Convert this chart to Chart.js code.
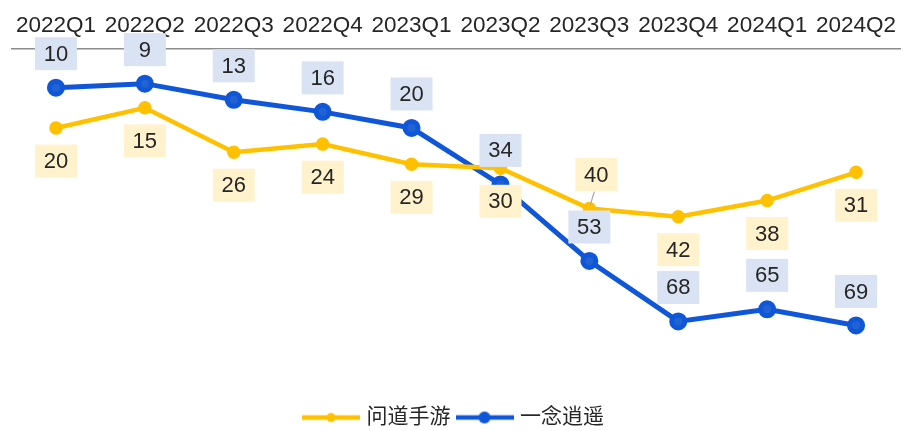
<!DOCTYPE html>
<html>
<head>
<meta charset="utf-8">
<script src="https://cdn.jsdelivr.net/npm/chart.js@4.4.1/dist/chart.umd.min.js"></script>
<style>
    html, body { margin: 0; padding: 0; background: #ffffff; }
    #chartContainer { width: 912px; height: 431px; }
</style>
</head>
<body>
<div id="chartContainer"><canvas id="myChart"></canvas></div>
<script>
const quarters = ['2022Q1', '2022Q2', '2022Q3', '2022Q4', '2023Q1', '2023Q2', '2023Q3', '2023Q4', '2024Q1', '2024Q2'];
const wendaoRank = [20, 15, 26, 24, 29, 30, 40, 42, 38, 31];
const yinianRank = [10, 9, 13, 16, 20, 34, 53, 68, 65, 69];

// where each box label sits (above / below its point), and a sideways nudge
const wendaoSide = ['below', 'below', 'below', 'below', 'below', 'below', 'above', 'below', 'below', 'below'];
const wendaoNudge = [0, 0, 0, 0, 0, 0, 7, 0, 0, 0];
const yinianSide = ['above', 'above', 'above', 'above', 'above', 'above', 'above', 'above', 'above', 'above'];
const yinianNudge = [0, 0, 0, 0, 0, 0, 0, 0, 0, 0];

const FONT = '"Liberation Sans", "Noto Sans CJK SC", Arial, sans-serif';
const YELLOW = '#ffc000';
const BLUE = '#0f57d8';

function legendIcon(color, r) {
    const c = document.createElement('canvas');
    c.width = 58;
    c.height = 14;
    const g = c.getContext('2d');
    g.strokeStyle = color;
    g.lineWidth = 4.5;
    g.beginPath();
    g.moveTo(0, 7);
    g.lineTo(58, 7);
    g.stroke();
    g.fillStyle = color;
    g.beginPath();
    g.arc(29, 7, r, 0, Math.PI * 2);
    g.fill();
    return c;
}

const boxLabels = {
    id: 'boxLabels',
    afterDatasetsDraw(chart) {
        const ctx = chart.ctx;
        ctx.save();
        ctx.font = '22px ' + FONT;
        ctx.textAlign = 'center';
        ctx.textBaseline = 'middle';
        chart.data.datasets.forEach((ds, i) => {
            const meta = chart.getDatasetMeta(i);
            meta.data.forEach((pt, j) => {
                const x = pt.x + ds.labelNudge[j];
                const y = ds.labelSide[j] === 'above' ? pt.y - 34 : pt.y + 33;
                if (ds.labelNudge[j] !== 0) {
                    ctx.strokeStyle = '#a6a6a6';
                    ctx.lineWidth = 1.2;
                    ctx.beginPath();
                    ctx.moveTo(x - 2, y + 17);
                    ctx.lineTo(pt.x + 1, pt.y - 4);
                    ctx.stroke();
                }
                ctx.fillStyle = ds.labelBg;
                ctx.fillRect(x - 21, y - 16.5, 42, 33);
                ctx.fillStyle = '#262626';
                ctx.fillText(String(ds.data[j]), x, y + 1);
            });
        });
        ctx.restore();
    }
};

let myChart = null;

function createChart() {
    if (myChart !== null) {
        myChart.destroy();
    }
    const ctx = document.getElementById('myChart').getContext('2d');
    myChart = new Chart(ctx, {
        type: 'line',
        data: {
            labels: quarters,
            datasets: [
                {
                    label: '问道手游',
                    data: wendaoRank,
                    borderColor: YELLOW,
                    backgroundColor: YELLOW,
                    borderWidth: 4.5,
                    pointRadius: 4.5,
                    pointHoverRadius: 4.5,
                    fill: false,
                    tension: 0,
                    labelBg: '#fff2cc',
                    labelSide: wendaoSide,
                    labelNudge: wendaoNudge,
                    icon: legendIcon(YELLOW, 4.5)
                },
                {
                    label: '一念逍遥',
                    data: yinianRank,
                    borderColor: BLUE,
                    backgroundColor: '#2262d3',
                    borderWidth: 5,
                    pointRadius: 6.5,
                    pointHoverRadius: 6.5,
                    fill: false,
                    tension: 0,
                    labelBg: '#dae3f3',
                    labelSide: yinianSide,
                    labelNudge: yinianNudge,
                    icon: legendIcon(BLUE, 6)
                }
            ]
        },
        options: {
            maintainAspectRatio: false,
            responsive: true,
            animation: false,
            layout: {
                padding: { left: 8, right: 10, top: 2, bottom: -7 }
            },
            plugins: {
                tooltip: { enabled: false },
                legend: {
                    display: true,
                    position: 'bottom',
                    labels: {
                        color: '#262626',
                        font: { size: 21, family: FONT },
                        usePointStyle: true,
                        pointStyleWidth: 50,
                        padding: 9,
                        generateLabels(chart) {
                            const items = Chart.defaults.plugins.legend.labels.generateLabels(chart);
                            items.forEach((it) => {
                                it.pointStyle = chart.data.datasets[it.datasetIndex].icon;
                            });
                            return items;
                        }
                    }
                }
            },
            scales: {
                x: {
                    position: 'top',
                    offset: true,
                    grid: { display: false, drawTicks: false },
                    border: { display: true, color: '#8c8c8c', width: 1.5 },
                    ticks: {
                        color: '#262626',
                        font: { size: 22.5, family: FONT },
                        padding: 10,
                        maxRotation: 0,
                        autoSkip: false
                    }
                },
                y: {
                    display: false,
                    reverse: true,
                    min: 0.4,
                    max: 87
                }
            }
        },
        plugins: [boxLabels]
    });
}

createChart();
</script>
</body>
</html>
